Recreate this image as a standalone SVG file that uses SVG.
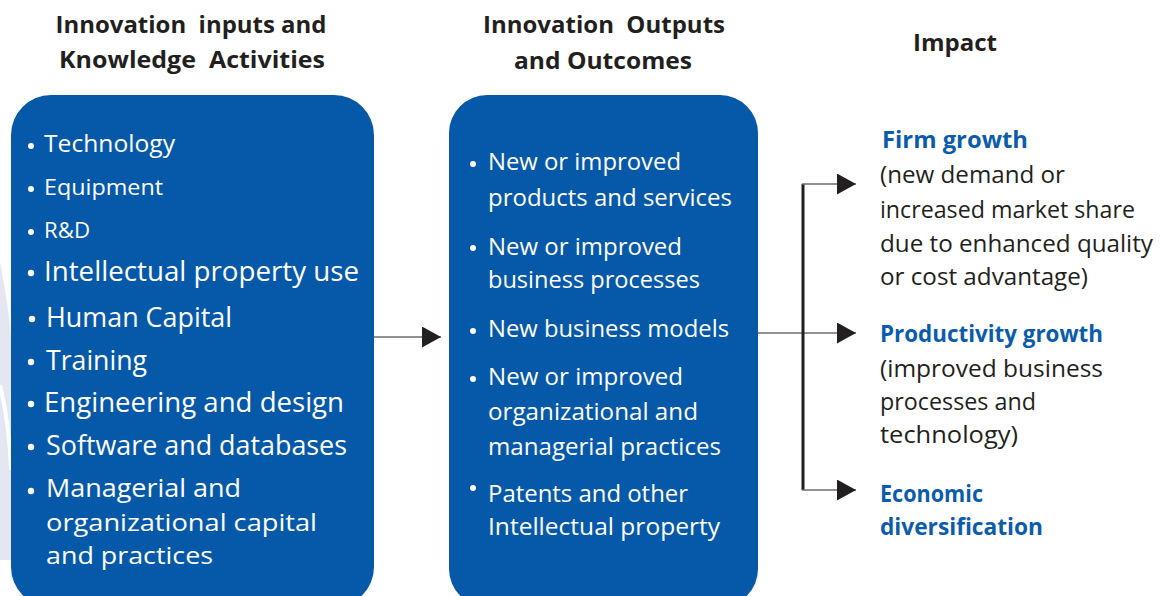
<svg xmlns="http://www.w3.org/2000/svg" width="1162" height="596" viewBox="0 0 1162 596">
  <style>
    .hd{font-family:"Open Sans","Noto Sans",sans-serif;font-weight:700;font-size:22.5px;fill:#231f20;white-space:pre}
    .box{fill:#0659a9}
    .wt{font-family:"Open Sans","Noto Sans",sans-serif;fill:#ffffff}
    .l1{font-size:24px}
    .l2{font-size:22px}
    .l3{font-size:27px}
    .l4{font-size:26px}
    .l5{font-size:24.5px}
    .m{font-size:24px}
    .bl{fill:#ffffff}
    .bt{font-family:"Open Sans","Noto Sans",sans-serif;font-weight:700;font-size:23px;fill:#0b5cab}
    .dt{font-family:"Open Sans","Noto Sans",sans-serif;font-size:24px;fill:#231f20}
    .thin{stroke:#6d6e71;stroke-width:1.5;fill:none}
    .bar{stroke:#231f20;stroke-width:3;fill:none}
  </style>
  <defs>
    <marker id="ah" viewBox="0 0 19 21" refX="19" refY="10.5" markerWidth="19" markerHeight="21" markerUnits="userSpaceOnUse" orient="auto">
      <polygon points="0,0 19,10.5 0,21" fill="#231f20"/>
    </marker>
  </defs>
  <rect width="1162" height="596" fill="#ffffff"/>

  <g id="decoration">
    <path d="M0,262 C5,290 11,320 11,345 L11,560 L0,560 Z" fill="#e4e6f2"/>
    <path d="M0,385 C6,410 10,440 11,470" stroke="#ffffff" stroke-width="4" fill="none"/>
  </g>

  <g id="headings">
    <text class="hd" x="191" y="33" text-anchor="middle" textLength="271" lengthAdjust="spacingAndGlyphs" xml:space="preserve">Innovation  inputs and</text>
    <text class="hd" x="192" y="68" text-anchor="middle" textLength="266" lengthAdjust="spacingAndGlyphs" xml:space="preserve">Knowledge  Activities</text>
    <text class="hd" x="604" y="33" text-anchor="middle" textLength="242" lengthAdjust="spacingAndGlyphs" xml:space="preserve">Innovation  Outputs</text>
    <text class="hd" x="603" y="69" text-anchor="middle" textLength="178" lengthAdjust="spacingAndGlyphs">and Outcomes</text>
    <text class="hd" x="955" y="51" text-anchor="middle" textLength="84" lengthAdjust="spacingAndGlyphs">Impact</text>
  </g>

  <g id="inputs">
    <rect class="box" x="11" y="95" width="363" height="512" rx="40" ry="40"/>
    <g class="bl">
      <circle cx="31" cy="146" r="3"/>
      <circle cx="31" cy="189" r="3"/>
      <circle cx="31" cy="232" r="3"/>
      <circle cx="31" cy="273" r="3.2"/>
      <circle cx="32" cy="319" r="3.2"/>
      <circle cx="31" cy="362" r="3.2"/>
      <circle cx="31" cy="404" r="3.2"/>
      <circle cx="31" cy="447" r="3.2"/>
      <circle cx="31" cy="491" r="3.2"/>
    </g>
    <text class="wt l1" x="44" y="152" textLength="131" lengthAdjust="spacingAndGlyphs">Technology</text>
    <text class="wt l2" x="44" y="195" textLength="119" lengthAdjust="spacingAndGlyphs">Equipment</text>
    <text class="wt l2" x="44" y="238" textLength="46" lengthAdjust="spacingAndGlyphs">R&amp;D</text>
    <text class="wt l3" x="44" y="281" textLength="315" lengthAdjust="spacingAndGlyphs">Intellectual property use</text>
    <text class="wt l3" x="46" y="327" textLength="186" lengthAdjust="spacingAndGlyphs">Human Capital</text>
    <text class="wt l3" x="46" y="370" textLength="101" lengthAdjust="spacingAndGlyphs">Training</text>
    <text class="wt l3" x="44" y="412" textLength="300" lengthAdjust="spacingAndGlyphs">Engineering and design</text>
    <text class="wt l3" x="46" y="455" textLength="301" lengthAdjust="spacingAndGlyphs">Software and databases</text>
    <text class="wt l4" x="46" y="497" textLength="195" lengthAdjust="spacingAndGlyphs">Managerial and</text>
    <text class="wt l5" x="46" y="531" textLength="271" lengthAdjust="spacingAndGlyphs">organizational capital</text>
    <text class="wt l5" x="46" y="564" textLength="167" lengthAdjust="spacingAndGlyphs">and practices</text>
  </g>

  <g id="outputs">
    <rect class="box" x="449" y="95" width="309" height="512" rx="38" ry="38"/>
    <g class="bl">
      <circle cx="473" cy="164" r="3"/>
      <circle cx="473" cy="248" r="3"/>
      <circle cx="473" cy="331" r="3"/>
      <circle cx="473" cy="379" r="3"/>
      <circle cx="473" cy="488" r="3"/>
    </g>
    <text class="wt m" x="488" y="170" textLength="193" lengthAdjust="spacingAndGlyphs">New or improved</text>
    <text class="wt m" x="488" y="206" textLength="244" lengthAdjust="spacingAndGlyphs">products and services</text>
    <text class="wt m" x="488" y="255" textLength="194" lengthAdjust="spacingAndGlyphs">New or improved</text>
    <text class="wt m" x="488" y="288" textLength="212" lengthAdjust="spacingAndGlyphs">business processes</text>
    <text class="wt m" x="488" y="337" textLength="241" lengthAdjust="spacingAndGlyphs">New business models</text>
    <text class="wt m" x="488" y="385" textLength="195" lengthAdjust="spacingAndGlyphs">New or improved</text>
    <text class="wt m" x="488" y="420" textLength="210" lengthAdjust="spacingAndGlyphs">organizational and</text>
    <text class="wt m" x="488" y="455" textLength="233" lengthAdjust="spacingAndGlyphs">managerial practices</text>
    <text class="wt m" x="488" y="502" textLength="200" lengthAdjust="spacingAndGlyphs">Patents and other</text>
    <text class="wt m" x="488" y="535" textLength="232" lengthAdjust="spacingAndGlyphs">Intellectual property</text>
  </g>

  <g id="firm-growth">
    <text class="bt" x="882" y="148" textLength="146" lengthAdjust="spacingAndGlyphs">Firm growth</text>
    <text class="dt" x="880" y="183" textLength="185" lengthAdjust="spacingAndGlyphs">(new demand or</text>
    <text class="dt" x="880" y="218" textLength="255" lengthAdjust="spacingAndGlyphs">increased market share</text>
    <text class="dt" x="880" y="252" textLength="273" lengthAdjust="spacingAndGlyphs">due to enhanced quality</text>
    <text class="dt" x="880" y="285" textLength="208" lengthAdjust="spacingAndGlyphs">or cost advantage)</text>
  </g>

  <g id="productivity-growth">
    <text class="bt" x="880" y="342" textLength="223" lengthAdjust="spacingAndGlyphs">Productivity growth</text>
    <text class="dt" x="880" y="377" textLength="223" lengthAdjust="spacingAndGlyphs">(improved business</text>
    <text class="dt" x="880" y="410" textLength="156" lengthAdjust="spacingAndGlyphs">processes and</text>
    <text class="dt" x="880" y="443" textLength="138" lengthAdjust="spacingAndGlyphs">technology)</text>
  </g>

  <g id="economic-diversification">
    <text class="bt" x="880" y="502" textLength="103" lengthAdjust="spacingAndGlyphs">Economic</text>
    <text class="bt" x="880" y="535" textLength="163" lengthAdjust="spacingAndGlyphs">diversification</text>
  </g>

  <g id="connectors">
    <line class="thin" x1="374" y1="337" x2="441" y2="337" marker-end="url(#ah)"/>
    <line class="thin" x1="758" y1="333" x2="856" y2="333" marker-end="url(#ah)"/>
    <line class="bar" x1="803" y1="184" x2="803" y2="490"/>
    <line class="thin" x1="802" y1="184" x2="856" y2="184" marker-end="url(#ah)"/>
    <line class="thin" x1="802" y1="490" x2="856" y2="490" marker-end="url(#ah)"/>
  </g>
</svg>
